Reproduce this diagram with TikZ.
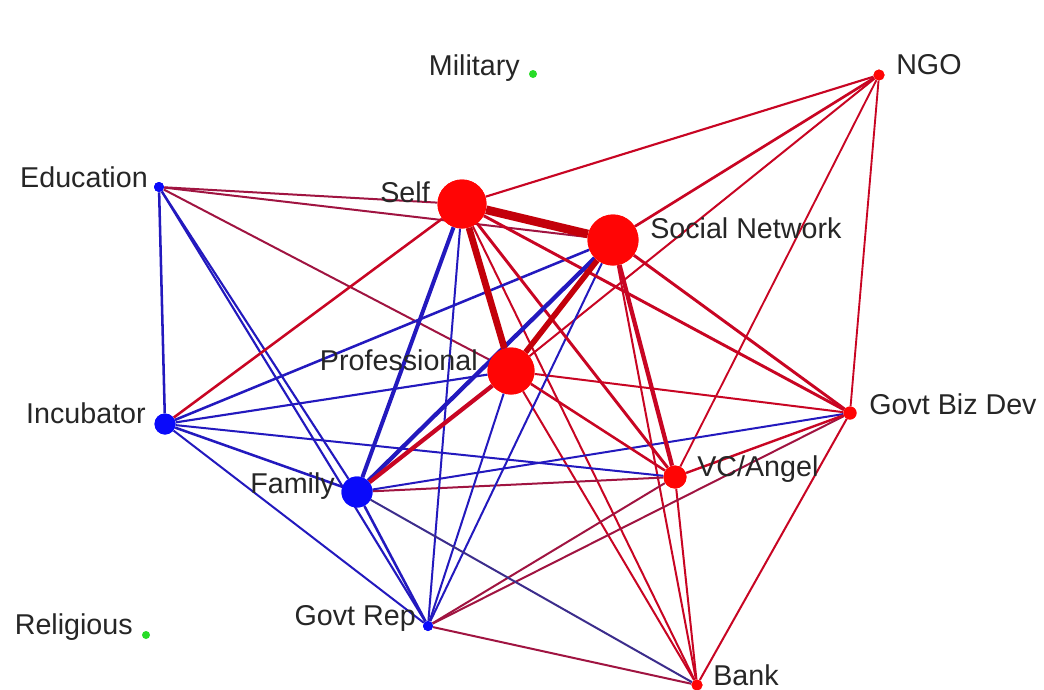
\documentclass[tikz,border=0pt]{standalone}
\usepackage{fontspec}
\setmainfont{Liberation Sans}
\definecolor{nred}{RGB}{255,5,5}
\definecolor{nblue}{RGB}{10,10,250}
\definecolor{ngreen}{RGB}{40,220,40}
\definecolor{err}{RGB}{200,5,35}
\definecolor{erk}{RGB}{195,0,10}
\definecolor{erb}{RGB}{160,20,65}
\definecolor{ebb}{RGB}{35,25,190}
\definecolor{efb}{RGB}{60,45,140}
\tikzset{
  vtx/.style={circle, inner sep=0pt, draw=none},
  rv/.style={vtx, fill=nred},
  bv/.style={vtx, fill=nblue},
  gv/.style={vtx, fill=ngreen},
  rr/.style={draw=err},
  rk/.style={draw=erk},
  rb/.style={draw=erb},
  bb/.style={draw=ebb},
  fb/.style={draw=efb},
  lbl/.style={font=\fontsize{21.5}{24}\selectfont, inner sep=0pt, text=black!85}
}
\begin{document}
\begin{tikzpicture}[x=0.75pt,y=-0.75pt]
\useasboundingbox (0,0) rectangle (1044,689);
\fill[white] (0,0) rectangle (1044,689);
% vertices
\node[rv, minimum size=36.75pt] (self) at (462,204) {};
\node[rv, minimum size=38.25pt] (sn) at (613,240) {};
\node[rv, minimum size=35.25pt] (prof) at (511,371) {};
\node[rv, minimum size=17.25pt] (vc) at (675,477) {};
\node[bv, minimum size=23.25pt] (fam) at (357,492) {};
\node[bv, minimum size=15.75pt] (inc) at (165,424) {};
\node[rv, minimum size=9.75pt] (gbd) at (850,413) {};
\node[rv, minimum size=8.25pt] (ngo) at (879,75) {};
\node[rv, minimum size=8.25pt] (bank) at (697,685) {};
\node[bv, minimum size=7.5pt] (gr) at (428,626) {};
\node[bv, minimum size=7.5pt] (edu) at (159,187) {};
\node[gv, minimum size=6pt] (mil) at (533,74) {};
\node[gv, minimum size=6pt] (rel) at (146,635) {};
% thin edges
\draw[rr, line width=1.5pt] (self) -- (bank);
\draw[rr, line width=1.6pt] (self) -- (ngo);
\draw[rr, line width=1.5pt] (sn) -- (bank);
\draw[rr, line width=1.5pt] (prof) -- (ngo);
\draw[rr, line width=1.5pt] (prof) -- (gbd);
\draw[rr, line width=1.5pt] (prof) -- (bank);
\draw[rr, line width=1.4pt] (ngo) -- (vc);
\draw[rr, line width=1.4pt] (ngo) -- (gbd);
\draw[rr, line width=1.5pt] (vc) -- (bank);
\draw[rr, line width=1.5pt] (gbd) -- (bank);
\draw[rb, line width=1.5pt] (edu) -- (self);
\draw[rb, line width=1.5pt] (edu) -- (sn);
\draw[rb, line width=1.5pt] (edu) -- (prof);
\draw[rb, line width=1.5pt] (fam) -- (vc);
\draw[rb, line width=1.5pt] (gr) -- (vc);
\draw[rb, line width=1.5pt] (gr) -- (gbd);
\draw[rb, line width=1.5pt] (gr) -- (bank);
\draw[bb, line width=1.6pt] (edu) -- (fam);
\draw[bb, line width=1.6pt] (edu) -- (gr);
\draw[bb, line width=1.6pt] (inc) -- (prof);
\draw[bb, line width=1.5pt] (inc) -- (vc);
\draw[bb, line width=1.5pt] (inc) -- (gr);
\draw[bb, line width=1.5pt] (self) -- (gr);
\draw[bb, line width=1.5pt] (sn) -- (gr);
\draw[bb, line width=1.5pt] (prof) -- (gr);
\draw[bb, line width=1.5pt] (fam) -- (gbd);
\draw[fb, line width=1.5pt] (fam) -- (bank);
% medium edges
\draw[bb, line width=1.9pt] (edu) -- (inc);
\draw[bb, line width=1.9pt] (inc) -- (sn);
\draw[bb, line width=1.9pt] (inc) -- (fam);
\draw[bb, line width=1.9pt] (fam) -- (gr);
\draw[rr, line width=1.9pt] (inc) -- (self);
\draw[rr, line width=1.9pt] (prof) -- (vc);
\draw[rr, line width=1.8pt] (vc) -- (gbd);
\draw[rr, line width=2pt] (sn) -- (ngo);
\draw[rr, line width=2.2pt] (sn) -- (gbd);
\draw[rr, line width=2.2pt] (self) -- (vc);
\draw[rr, line width=2.2pt] (self) -- (gbd);
% heavy edges
\draw[bb, line width=3pt] (self) -- (fam);
\draw[bb, line width=3.2pt] (sn) -- (fam);
\draw[rr, line width=3.2pt] (fam) -- (prof);
\draw[rr, line width=3.2pt] (sn) -- (vc);
\draw[rk, line width=4.2pt] (sn) -- (prof);
\draw[rk, line width=5pt] (self) -- (prof);
\draw[rk, line width=6.5pt] (self) -- (sn);
% redraw vertices on top of the edges
\foreach \n/\s/\c in {self/36.75/nred, sn/38.25/nred, prof/35.25/nred, vc/17.25/nred, fam/23.25/nblue, inc/15.75/nblue, gbd/9.75/nred, ngo/8.25/nred, bank/8.25/nred, gr/7.5/nblue, edu/7.5/nblue}
  \fill[\c] (\n.center) circle[radius=\s pt/2];
% labels
\node[lbl, anchor=base east] (lmil) at (520,75) {Military};
\node[lbl, anchor=base west] (lngo) at (896,74) {NGO};
\node[lbl, anchor=base east] (ledu) at (148,187) {Education};
\node[lbl, anchor=base east] (lself) at (430,202) {Self};
\node[lbl, anchor=base west] (lsn) at (650,238) {Social Network};
\node[lbl, anchor=base east] (lprof) at (478,370) {Professional};
\node[lbl, anchor=base east] (linc) at (146,423) {Incubator};
\node[lbl, anchor=base west] (lgbd) at (869,414) {Govt Biz Dev};
\node[lbl, anchor=base west] (lvc) at (697,476) {VC/Angel};
\node[lbl, anchor=base east] (lfam) at (335,493) {Family};
\node[lbl, anchor=base east] (lrel) at (133,634) {Religious};
\node[lbl, anchor=base east] (lgr) at (416,625) {Govt Rep};
\node[lbl, anchor=base west] (lbank) at (713,685) {Bank};
\end{tikzpicture}
\end{document}
